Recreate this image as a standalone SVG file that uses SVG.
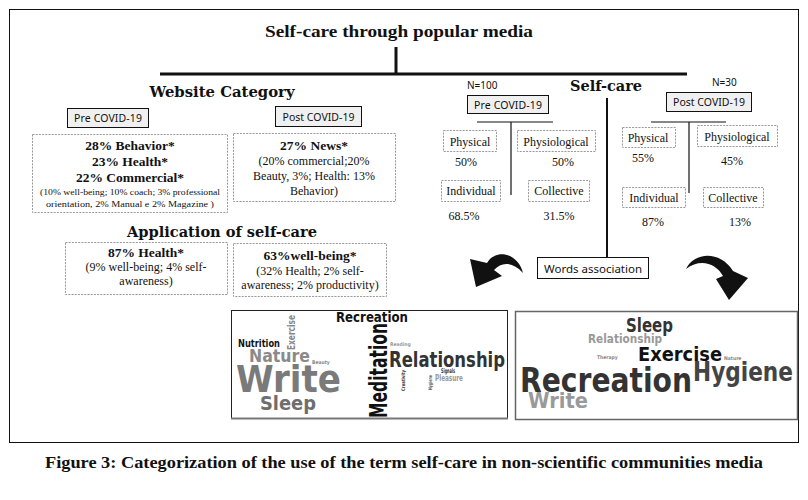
<svg xmlns="http://www.w3.org/2000/svg" width="808" height="500" viewBox="0 0 808 500">
<defs>
<style>
.serif{font-family:"Liberation Serif","Times New Roman",serif;fill:#111}
.b{font-weight:bold}
.head{font-family:"DejaVu Serif","Liberation Serif",serif;font-weight:900;fill:#111}
.sans{font-family:"Noto Sans","Liberation Sans",sans-serif;fill:#111}
.tag{fill:#f0f0f0;stroke:#111;stroke-width:1}
.dash{fill:#fff;stroke:#999;stroke-width:1;stroke-dasharray:2 1.2}
.line{stroke:#111;fill:none}
.wc{font-family:"DejaVu Sans Condensed","Liberation Sans Narrow","Liberation Sans",sans-serif;font-weight:bold}
</style>
</defs>
<rect width="808" height="500" fill="#fff"/>
<rect x="9.5" y="9.5" width="789" height="433" fill="none" stroke="#111" stroke-width="1"/>

<g id="title">
<text class="serif b" x="399" y="37" font-size="17" text-anchor="middle" textLength="268" lengthAdjust="spacingAndGlyphs">Self-care through popular media</text>
</g>

<g id="connectors">
<line class="line" x1="396" y1="47" x2="396" y2="73" stroke-width="3"/>
<line class="line" x1="160" y1="74" x2="687" y2="74" stroke-width="3"/>
<line class="line" x1="607" y1="98" x2="607" y2="257" stroke-width="2"/>
<line class="line" x1="477" y1="122" x2="553" y2="122" stroke-width="1.2"/>
<line class="line" x1="511" y1="122" x2="511" y2="195" stroke-width="1.2"/>
<line class="line" x1="651" y1="122" x2="726" y2="122" stroke-width="1.2"/>
<line class="line" x1="689" y1="122" x2="689" y2="193" stroke-width="1.2"/>
<path id="arrow-left" d="M523 273 C518 253 496 248 487 263 L470 259 L476 287 L502 276 L494 270 C502 261 513 262 523 273 Z" fill="#111"/>
<path id="arrow-right" d="M686 269 C694 252 720 250 733 271 L748 278 L729 300 L716 279 L723 276 C716 263 700 258 686 269 Z" fill="#111"/>
</g>

<g id="website-category">
<text class="head" x="222" y="97" font-size="15" text-anchor="middle" textLength="145" lengthAdjust="spacingAndGlyphs">Website Category</text>
</g>

<g id="wc-pre">
<rect class="tag" x="67.5" y="108.5" width="81" height="19"/>
<text class="sans" x="108" y="122" font-size="10.5" text-anchor="middle" textLength="68" lengthAdjust="spacing">Pre COVID-19</text>
</g>
<g id="wc-post">
<rect class="tag" x="275.5" y="106.5" width="86" height="20"/>
<text class="sans" x="318.5" y="120.5" font-size="10.5" text-anchor="middle" textLength="72" lengthAdjust="spacing">Post COVID-19</text>
</g>

<g id="wc-pre-box">
<rect class="dash" x="32.5" y="134.5" width="195" height="78"/>
<text class="serif b" x="130" y="150" font-size="13.5" text-anchor="middle">28% Behavior*</text>
<text class="serif b" x="130" y="166" font-size="13.5" text-anchor="middle">23% Health*</text>
<text class="serif b" x="130" y="182" font-size="13.5" text-anchor="middle">22% Commercial*</text>
<text class="serif" x="130" y="195" font-size="9" text-anchor="middle" textLength="180" lengthAdjust="spacingAndGlyphs">(10% well-being; 10% coach; 3% professional</text>
<text class="serif" x="130" y="207" font-size="9" text-anchor="middle" textLength="168" lengthAdjust="spacingAndGlyphs">orientation, 2% Manual e 2% Magazine )</text>
</g>

<g id="wc-post-box">
<rect class="dash" x="233.5" y="133.5" width="162" height="68"/>
<text class="serif b" x="314" y="150" font-size="13.5" text-anchor="middle">27% News*</text>
<text class="serif" x="314" y="165" font-size="12" text-anchor="middle">(20% commercial;20%</text>
<text class="serif" x="314" y="180" font-size="12" text-anchor="middle">Beauty, 3%; Health: 13%</text>
<text class="serif" x="314" y="195" font-size="12" text-anchor="middle">Behavior)</text>
</g>

<g id="application">
<text class="head" x="222" y="237" font-size="15" text-anchor="middle" textLength="190" lengthAdjust="spacingAndGlyphs">Application of self-care</text>
</g>
<g id="app-pre-box">
<rect class="dash" x="65.5" y="242.5" width="162" height="52"/>
<text class="serif b" x="146" y="257" font-size="13.5" text-anchor="middle">87% Health*</text>
<text class="serif" x="146" y="271" font-size="12" text-anchor="middle">(9% well-being; 4% self-</text>
<text class="serif" x="146" y="285" font-size="12" text-anchor="middle">awareness)</text>
</g>
<g id="app-post-box">
<rect class="dash" x="233.5" y="243.5" width="153" height="53"/>
<text class="serif b" x="310" y="260" font-size="13.5" text-anchor="middle">63%well-being*</text>
<text class="serif" x="310" y="275" font-size="12" text-anchor="middle">(32% Health; 2% self-</text>
<text class="serif" x="310" y="289" font-size="12" text-anchor="middle">awareness; 2% productivity)</text>
</g>

<g id="self-care">
<text class="head" x="606" y="91" font-size="14" text-anchor="middle" textLength="72" lengthAdjust="spacingAndGlyphs">Self-care</text>
</g>

<g id="sc-pre">
<text class="sans" x="467" y="89" font-size="10">N=100</text>
<rect class="tag" x="467.5" y="95.5" width="81" height="18"/>
<text class="sans" x="508" y="108.5" font-size="10.5" text-anchor="middle" textLength="68" lengthAdjust="spacing">Pre COVID-19</text>
</g>
<g id="sc-post">
<text class="sans" x="712" y="86" font-size="10">N=30</text>
<rect class="tag" x="666.5" y="92.5" width="85" height="19"/>
<text class="sans" x="709" y="106" font-size="10.5" text-anchor="middle" textLength="72" lengthAdjust="spacing">Post COVID-19</text>
</g>

<g id="pre-physical">
<rect class="dash" x="443.5" y="130.5" width="53" height="21"/>
<text class="serif" x="470" y="145.5" font-size="12" text-anchor="middle">Physical</text>
<text class="serif" x="466" y="166" font-size="12" text-anchor="middle">50%</text>
</g>
<g id="pre-physiological">
<rect class="dash" x="517.5" y="130.5" width="78" height="21"/>
<text class="serif" x="556" y="145.5" font-size="12" text-anchor="middle">Physiological</text>
<text class="serif" x="563" y="166" font-size="12" text-anchor="middle">50%</text>
</g>
<g id="pre-individual">
<rect class="dash" x="441.5" y="180.5" width="59" height="21"/>
<text class="serif" x="471" y="195" font-size="12" text-anchor="middle">Individual</text>
<text class="serif" x="464" y="220" font-size="12" text-anchor="middle">68.5%</text>
</g>
<g id="pre-collective">
<rect class="dash" x="528.5" y="180.5" width="61" height="21"/>
<text class="serif" x="559" y="195" font-size="12" text-anchor="middle">Collective</text>
<text class="serif" x="559" y="220" font-size="12" text-anchor="middle">31.5%</text>
</g>

<g id="post-physical">
<rect class="dash" x="622.5" y="127.5" width="53" height="20"/>
<text class="serif" x="648" y="142" font-size="12" text-anchor="middle">Physical</text>
<text class="serif" x="643" y="162" font-size="12" text-anchor="middle">55%</text>
</g>
<g id="post-physiological">
<rect class="dash" x="697.5" y="125.5" width="80" height="21"/>
<text class="serif" x="737" y="140.5" font-size="12" text-anchor="middle">Physiological</text>
<text class="serif" x="732" y="165" font-size="12" text-anchor="middle">45%</text>
</g>
<g id="post-individual">
<rect class="dash" x="622.5" y="187.5" width="63" height="20"/>
<text class="serif" x="654" y="202" font-size="12" text-anchor="middle">Individual</text>
<text class="serif" x="653" y="226" font-size="12" text-anchor="middle">87%</text>
</g>
<g id="post-collective">
<rect class="dash" x="703.5" y="187.5" width="60" height="20"/>
<text class="serif" x="733" y="202" font-size="12" text-anchor="middle">Collective</text>
<text class="serif" x="740" y="226" font-size="12" text-anchor="middle">13%</text>
</g>

<g id="words-association">
<rect x="537.5" y="257.5" width="111" height="21" fill="#fff" stroke="#111" stroke-width="1"/>
<text class="sans" x="593" y="272.5" font-size="11.5" text-anchor="middle">Words association</text>
</g>

<g id="cloud-pre">
<rect x="231.5" y="310.5" width="276" height="108" fill="#fff" stroke="#222" stroke-width="1"/>
<line x1="231" y1="418.5" x2="508" y2="418.5" stroke="#777" stroke-width="2"/>
<text class="wc" x="336" y="322" font-size="14" fill="#111" textLength="72" lengthAdjust="spacingAndGlyphs">Recreation</text>
<text class="wc" transform="translate(387,418) rotate(-90)" font-size="25" fill="#111" textLength="95" lengthAdjust="spacingAndGlyphs">Meditation</text>
<text class="wc" x="389" y="367" font-size="21" fill="#333" textLength="116" lengthAdjust="spacingAndGlyphs">Relationship</text>
<text class="wc" transform="translate(295,350) rotate(-90)" font-size="11" fill="#888" textLength="35" lengthAdjust="spacingAndGlyphs">Exercise</text>
<text class="wc" x="238" y="347" font-size="10" fill="#111" textLength="42" lengthAdjust="spacingAndGlyphs">Nutrition</text>
<text class="wc" x="249" y="362" font-size="17" fill="#8a8a8a" textLength="61" lengthAdjust="spacingAndGlyphs">Nature</text>
<text class="wc" x="236" y="392" font-size="38" fill="#7a7a7a" textLength="105" lengthAdjust="spacingAndGlyphs">Write</text>
<text class="wc" x="260" y="410" font-size="19" fill="#6e6e6e" textLength="56" lengthAdjust="spacingAndGlyphs">Sleep</text>
<text class="wc" x="312" y="364" font-size="5" fill="#888">Beauty</text>
<text class="wc" x="390" y="346" font-size="5" fill="#999">Reading</text>
<text class="wc" x="441" y="373" font-size="6.5" fill="#333" textLength="14" lengthAdjust="spacingAndGlyphs">Signals</text>
<text class="wc" x="435" y="381" font-size="8" fill="#999" textLength="28" lengthAdjust="spacingAndGlyphs">Pleasure</text>
<text class="wc" transform="translate(405,391) rotate(-90)" font-size="5" fill="#333" textLength="21" lengthAdjust="spacingAndGlyphs">Creativity</text>
<text class="wc" transform="translate(432,390) rotate(-90)" font-size="5" fill="#555" textLength="15" lengthAdjust="spacingAndGlyphs">Hygiene</text>
</g>

<g id="cloud-post">
<rect x="515.5" y="311.5" width="282" height="108" fill="#fff" stroke="#666" stroke-width="1.5"/>
<text class="wc" x="626" y="332" font-size="20" fill="#333" textLength="47" lengthAdjust="spacingAndGlyphs">Sleep</text>
<text class="wc" x="588" y="343" font-size="12" fill="#999" textLength="74" lengthAdjust="spacingAndGlyphs">Relationship</text>
<text class="wc" x="638" y="361" font-size="20" fill="#111" textLength="84" lengthAdjust="spacingAndGlyphs">Exercise</text>
<text class="wc" x="597" y="359" font-size="5" fill="#888">Therapy</text>
<text class="wc" x="724" y="360" font-size="5" fill="#888">Nature</text>
<text class="wc" x="520" y="392" font-size="34" fill="#333" textLength="172" lengthAdjust="spacingAndGlyphs">Recreation</text>
<text class="wc" x="693" y="381" font-size="26" fill="#444" textLength="100" lengthAdjust="spacingAndGlyphs">Hygiene</text>
<text class="wc" x="528" y="408" font-size="22" fill="#999" textLength="60" lengthAdjust="spacingAndGlyphs">Write</text>
</g>

<g id="caption">
<text class="serif b" x="404" y="468" font-size="17" text-anchor="middle" textLength="718" lengthAdjust="spacingAndGlyphs">Figure 3: Categorization of the use of the term self-care in non-scientific communities media</text>
</g>
</svg>
